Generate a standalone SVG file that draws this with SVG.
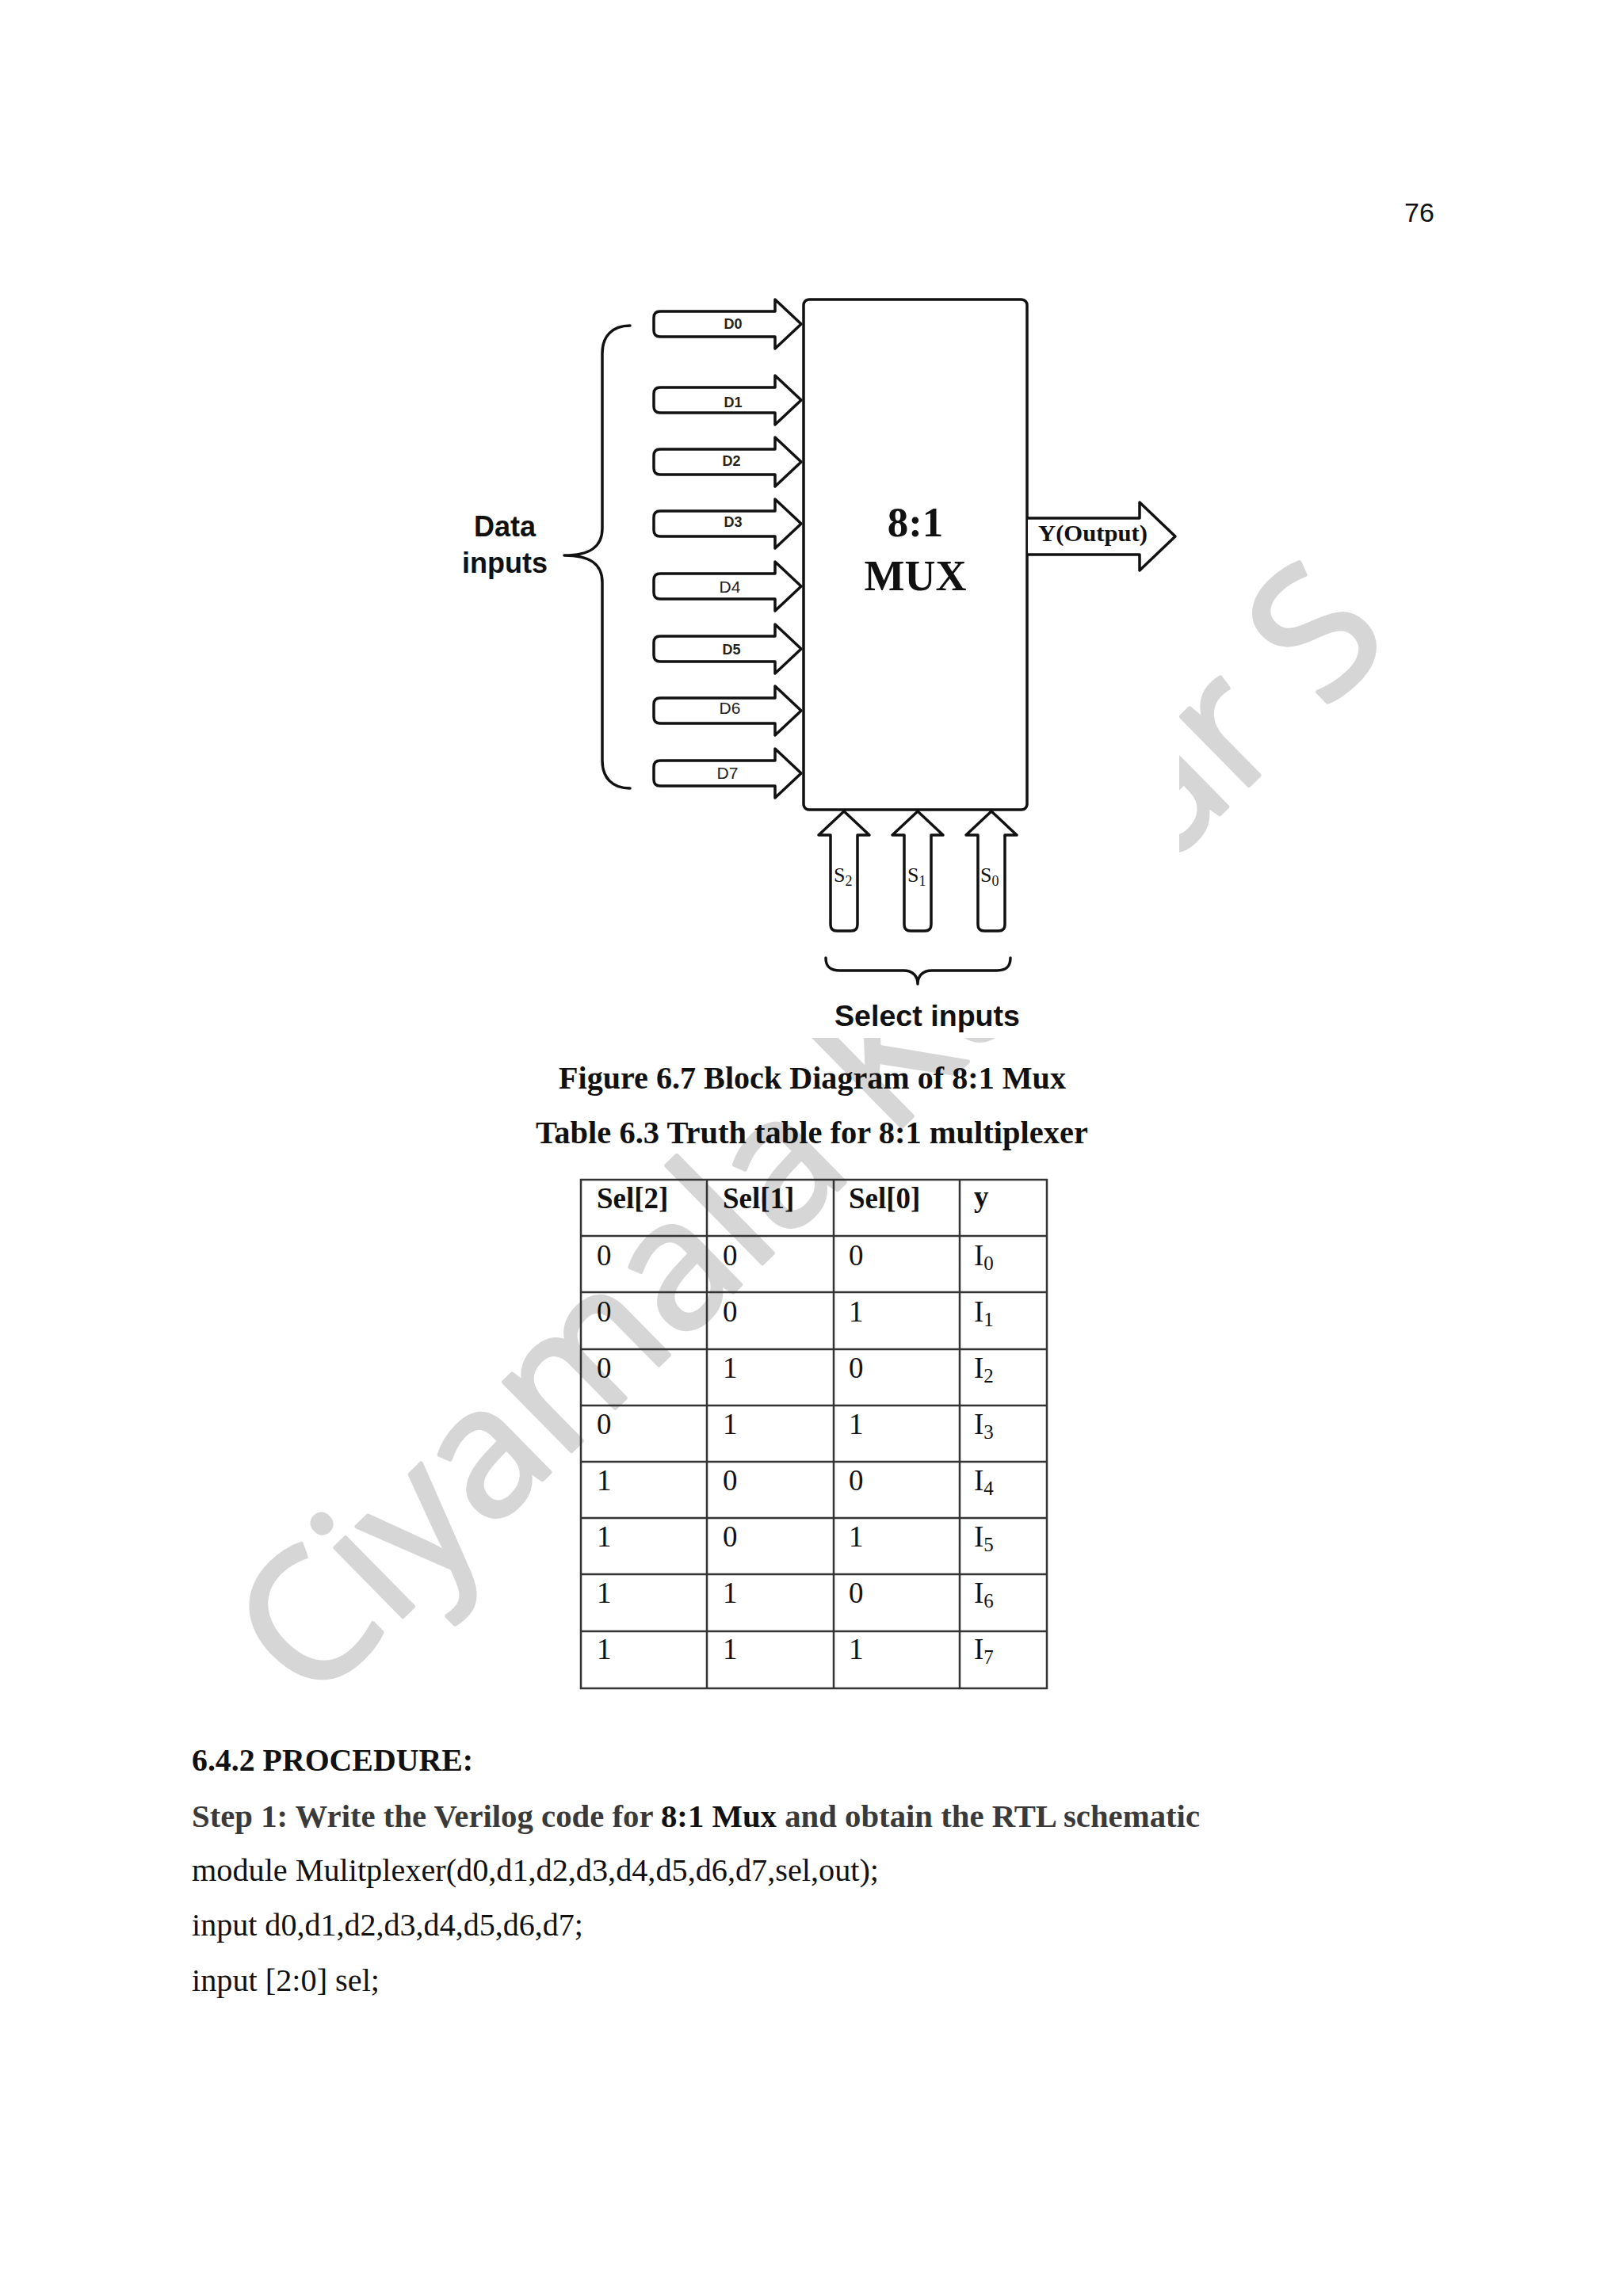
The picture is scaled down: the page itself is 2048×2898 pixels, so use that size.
<svg xmlns="http://www.w3.org/2000/svg" xmlns:xlink="http://www.w3.org/1999/xlink" width="2048" height="2898" viewBox="0 0 2048 2898">
<style>
.ln{fill:none;stroke:#111;stroke-width:3.5;stroke-linejoin:round;stroke-linecap:round}
.ar{fill:#fff;stroke:#111;stroke-width:3.5;stroke-linejoin:round}
.dl{font-family:"Liberation Sans",Arial,sans-serif;font-size:18px;font-weight:bold;fill:#222;text-anchor:middle}
.dl2{font-family:"Liberation Sans",Arial,sans-serif;font-size:21px;fill:#222;text-anchor:middle}
.sans{font-family:"Liberation Sans",Arial,sans-serif;font-weight:bold;fill:#111}
.ser{font-family:"Liberation Serif","Times New Roman",serif;fill:#111}
.b{font-weight:bold}
.cell{font-family:"Liberation Serif","Times New Roman",serif;font-size:37px;fill:#111}
.grid{stroke:#333;stroke-width:2.5;fill:none}
.wm{font-family:"Open Sans","Liberation Sans",Arial,sans-serif;font-size:228px;fill:#d6d6d6;stroke:#d6d6d6;stroke-width:5;stroke-linejoin:round}
</style>
<defs>
<path id="harrow" d="M 8 -16 L 153 -16 L 153 -31 L 186 0 L 153 31 L 153 16 L 8 16 Q 0 16 0 8 L 0 -8 Q 0 -16 8 -16 Z"/>
<path id="varrow" d="M 0 0 L 32 30 L 17 30 L 17 143 Q 17 151 9 151 L -9 151 Q -17 151 -17 143 L -17 30 L -32 30 Z"/>
</defs>
<rect width="2048" height="2898" fill="#fff"/>
<g id="watermark">
<text class="wm" transform="translate(392 2155) rotate(-44.5)">Ciyamala Kumar S</text>
</g>
<rect x="560" y="340" width="928" height="970" fill="#fff"/>
<text x="1772" y="280" font-family="Liberation Sans,Arial,sans-serif" font-size="34" fill="#111">76</text>

<g id="mux">
<rect x="1014" y="378" width="282" height="644" rx="7" class="ar"/>
<text class="ser b" x="1155" y="677" font-size="53" text-anchor="middle">8:1</text>
<text class="ser b" x="1155" y="745" font-size="54" text-anchor="middle">MUX</text>
</g>

<g id="data-inputs">
<path class="ln" d="M 795 411 C 772 411 760 425 760 446 L 760 667 C 760 690 745 701 712 701 C 745 701 760 712 760 735 L 760 960 C 760 981 772 995 795 995"/>
<text class="sans" x="637" y="677" font-size="36" text-anchor="middle">Data</text>
<text class="sans" x="637" y="723" font-size="36" text-anchor="middle">inputs</text>
</g>

<g id="connectors">
<g id="d0"><use xlink:href="#harrow" x="825" y="409" class="ar"/><text class="dl" x="925" y="415">D0</text></g>
<g id="d1"><use xlink:href="#harrow" x="825" y="505" class="ar"/><text class="dl" x="925" y="514">D1</text></g>
<g id="d2"><use xlink:href="#harrow" x="825" y="583" class="ar"/><text class="dl" x="923" y="588">D2</text></g>
<g id="d3"><use xlink:href="#harrow" x="825" y="661" class="ar"/><text class="dl" x="925" y="665">D3</text></g>
<g id="d4"><use xlink:href="#harrow" x="825" y="740" class="ar"/><text class="dl2" x="921" y="748">D4</text></g>
<g id="d5"><use xlink:href="#harrow" x="825" y="819" class="ar"/><text class="dl" x="923" y="826">D5</text></g>
<g id="d6"><use xlink:href="#harrow" x="825" y="897" class="ar"/><text class="dl2" x="921" y="901">D6</text></g>
<g id="d7"><use xlink:href="#harrow" x="825" y="976" class="ar"/><text class="dl2" x="918" y="983">D7</text></g>

<g id="y-out">
<path class="ar" d="M 1297 654 L 1438 654 L 1438 634 L 1483 677 L 1438 720 L 1438 700 L 1297 700"/>
<text class="ser b" x="1310" y="683" font-size="30" textLength="138" lengthAdjust="spacingAndGlyphs">Y(Output)</text>
</g>

<g id="s2"><use xlink:href="#varrow" x="1065" y="1024" class="ar"/><text class="ser" x="1052" y="1113" font-size="26">S<tspan font-size="18" dy="5">2</tspan></text></g>
<g id="s1"><use xlink:href="#varrow" x="1158" y="1024" class="ar"/><text class="ser" x="1145" y="1113" font-size="26">S<tspan font-size="18" dy="5">1</tspan></text></g>
<g id="s0"><use xlink:href="#varrow" x="1251" y="1024" class="ar"/><text class="ser" x="1237" y="1113" font-size="26">S<tspan font-size="18" dy="5">0</tspan></text></g>
</g>

<g id="select-inputs">
<path class="ln" d="M 1042 1209 C 1042 1220 1047 1225 1060 1225 L 1140 1225 C 1152 1225 1158 1232 1158 1242 C 1158 1232 1164 1225 1176 1225 L 1258 1225 C 1270 1225 1275 1220 1275 1209"/>
<text class="sans" x="1053" y="1295" font-size="36" textLength="234" lengthAdjust="spacingAndGlyphs">Select inputs</text>
</g>

<g id="captions">
<text class="ser b" x="705" y="1374" font-size="41" textLength="640" lengthAdjust="spacingAndGlyphs">Figure 6.7 Block Diagram of 8:1 Mux</text>
<text class="ser b" x="676" y="1443" font-size="41" textLength="697" lengthAdjust="spacingAndGlyphs">Table 6.3 Truth table for 8:1 multiplexer</text>
</g>

<g id="truth-table">
<rect class="grid" x="733" y="1489" width="588" height="642"/>
<path class="grid" d="M 892 1489 V 2131 M 1052 1489 V 2131 M 1211 1489 V 2131 M 733 1560 H 1321 M 733 1631 H 1321 M 733 1703 H 1321 M 733 1774 H 1321 M 733 1845 H 1321 M 733 1916 H 1321 M 733 1987 H 1321 M 733 2059 H 1321"/>
<g class="cell" font-weight="bold">
<text x="753" y="1525">Sel[2]</text><text x="912" y="1525">Sel[1]</text><text x="1071" y="1525">Sel[0]</text><text x="1229" y="1523">y</text>
</g>
<g class="cell">
<text x="753" y="1597">0</text><text x="912" y="1597">0</text><text x="1071" y="1597">0</text><text x="1229" y="1597">I<tspan font-size="25" dy="6">0</tspan></text>
<text x="753" y="1668">0</text><text x="912" y="1668">0</text><text x="1071" y="1668">1</text><text x="1229" y="1668">I<tspan font-size="25" dy="6">1</tspan></text>
<text x="753" y="1739">0</text><text x="912" y="1739">1</text><text x="1071" y="1739">0</text><text x="1229" y="1739">I<tspan font-size="25" dy="6">2</tspan></text>
<text x="753" y="1810">0</text><text x="912" y="1810">1</text><text x="1071" y="1810">1</text><text x="1229" y="1810">I<tspan font-size="25" dy="6">3</tspan></text>
<text x="753" y="1881">1</text><text x="912" y="1881">0</text><text x="1071" y="1881">0</text><text x="1229" y="1881">I<tspan font-size="25" dy="6">4</tspan></text>
<text x="753" y="1952">1</text><text x="912" y="1952">0</text><text x="1071" y="1952">1</text><text x="1229" y="1952">I<tspan font-size="25" dy="6">5</tspan></text>
<text x="753" y="2023">1</text><text x="912" y="2023">1</text><text x="1071" y="2023">0</text><text x="1229" y="2023">I<tspan font-size="25" dy="6">6</tspan></text>
<text x="753" y="2094">1</text><text x="912" y="2094">1</text><text x="1071" y="2094">1</text><text x="1229" y="2094">I<tspan font-size="25" dy="6">7</tspan></text>
</g>
</g>

<g id="procedure">
<text class="ser b" x="242" y="2235" font-size="40" textLength="355" lengthAdjust="spacingAndGlyphs">6.4.2 PROCEDURE:</text>
<text class="ser b" x="242" y="2306" font-size="40" fill="#3a3a3a" textLength="1272" lengthAdjust="spacingAndGlyphs"><tspan fill="#3a3a3a">Step 1: Write the Verilog code for  </tspan><tspan fill="#111">8:1 Mux</tspan><tspan fill="#3a3a3a"> and obtain the RTL schematic</tspan></text>
<text class="ser" x="242" y="2374" font-size="40" textLength="867" lengthAdjust="spacingAndGlyphs">module Mulitplexer(d0,d1,d2,d3,d4,d5,d6,d7,sel,out);</text>
<text class="ser" x="242" y="2443" font-size="40" textLength="494" lengthAdjust="spacingAndGlyphs">input d0,d1,d2,d3,d4,d5,d6,d7;</text>
<text class="ser" x="242" y="2513" font-size="40" textLength="237" lengthAdjust="spacingAndGlyphs">input [2:0] sel;</text>
</g>
</svg>
